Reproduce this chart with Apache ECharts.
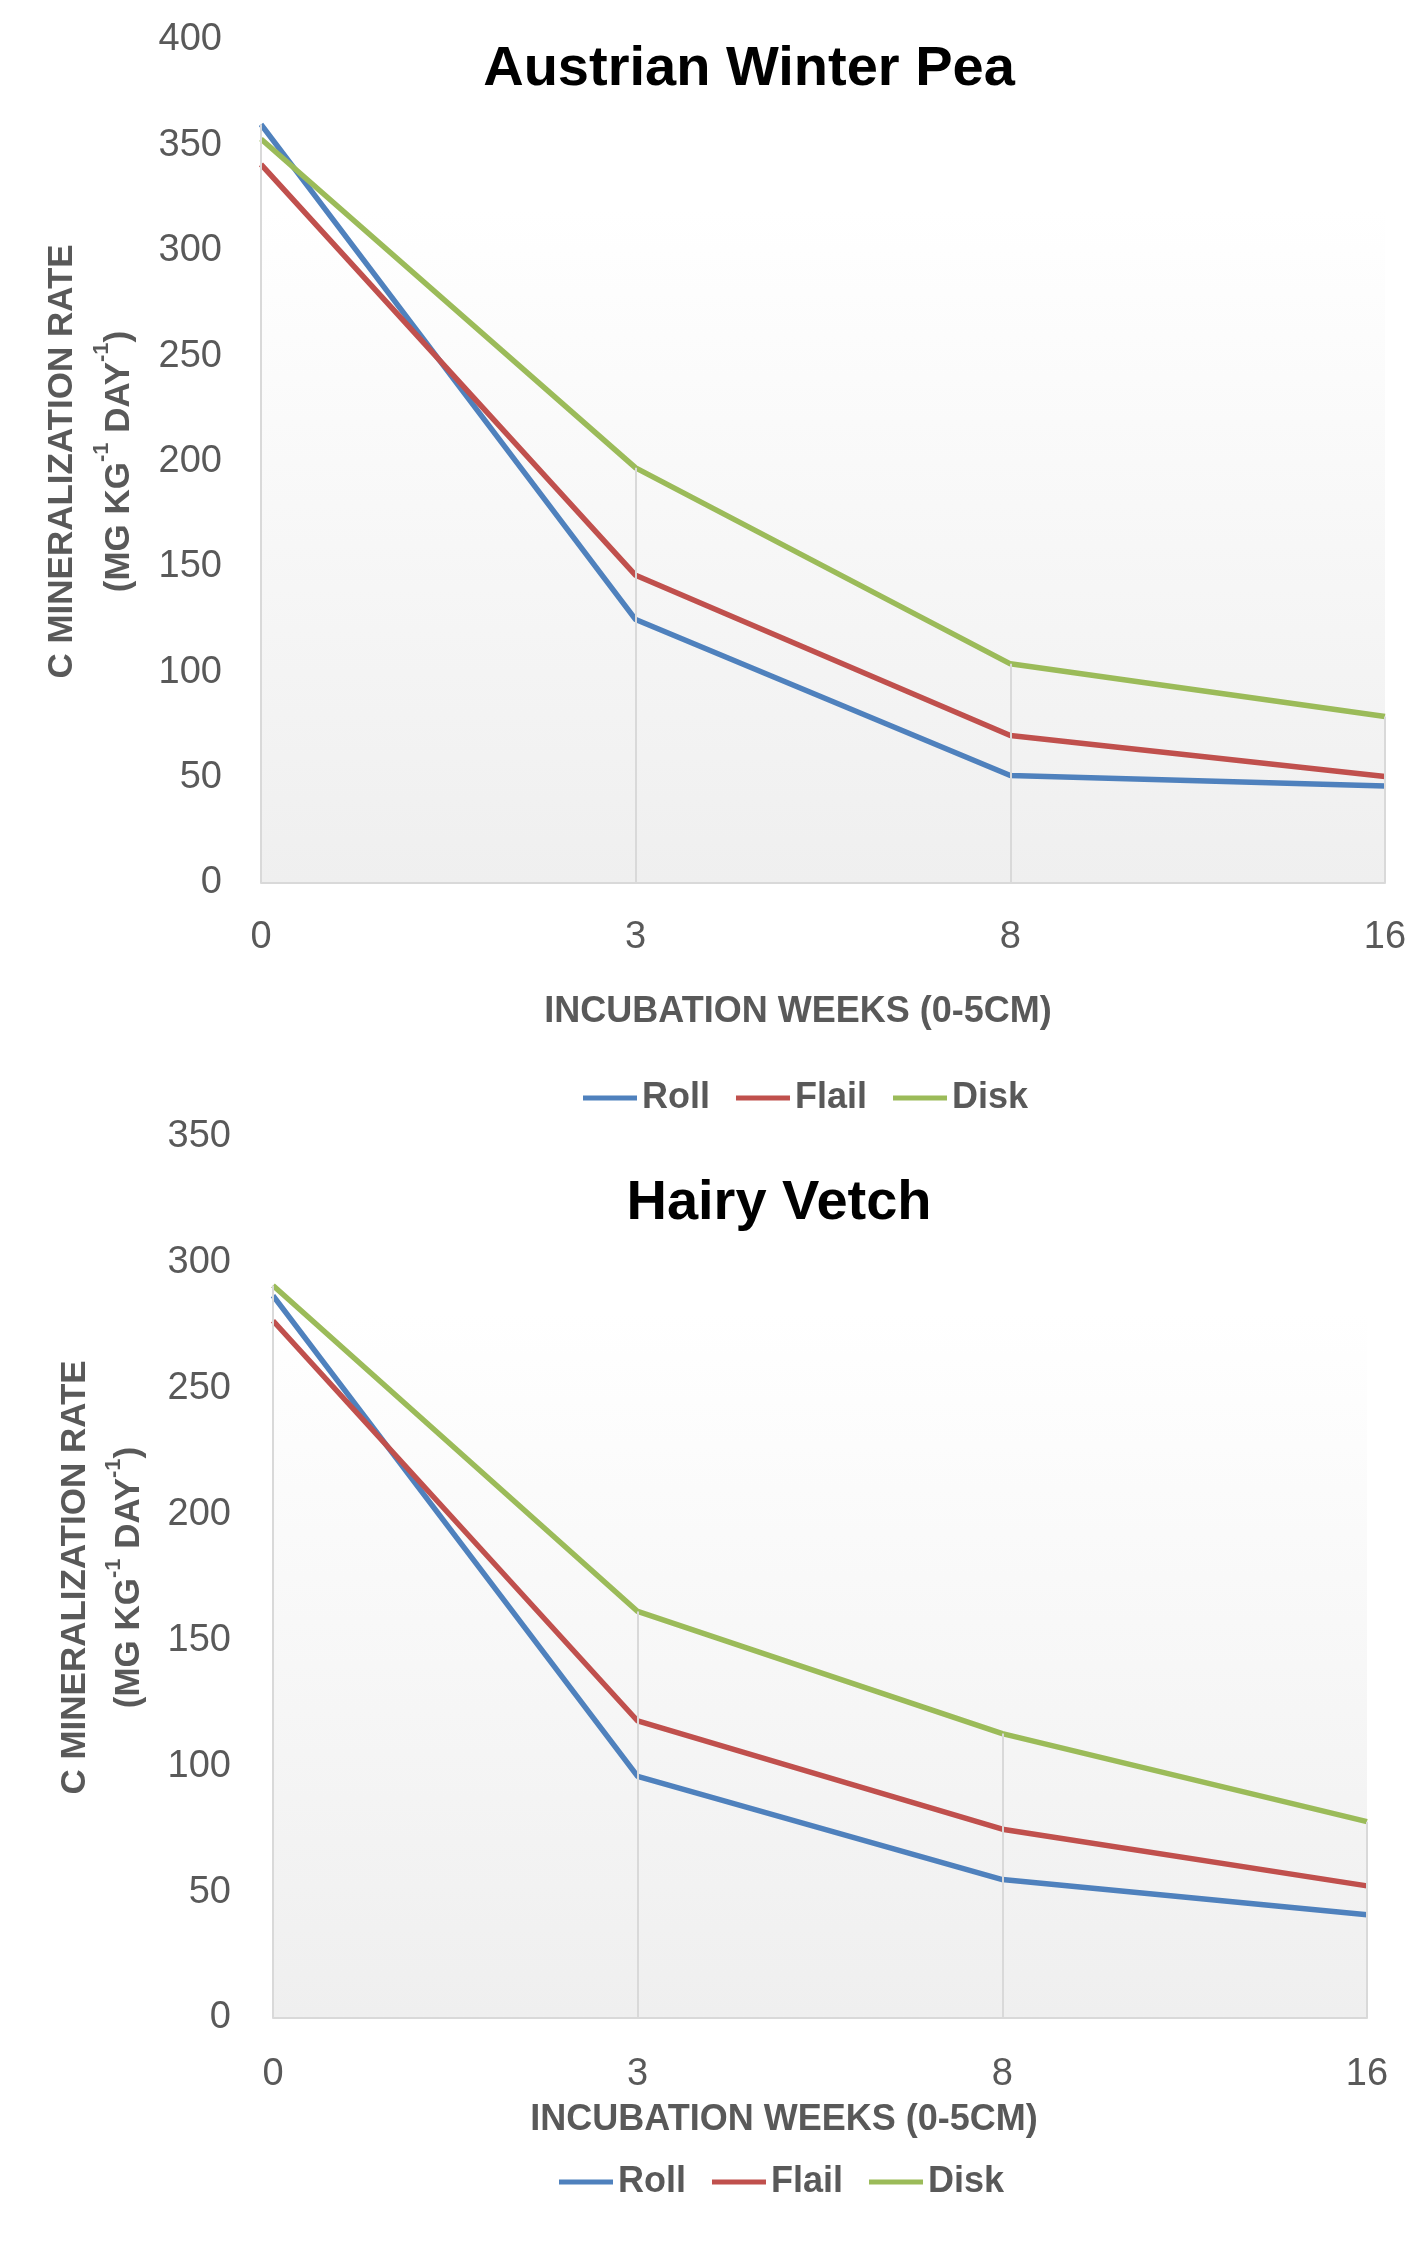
<!DOCTYPE html>
<html>
<head>
<meta charset="utf-8">
<style>html,body{margin:0;padding:0;background:#fff;}#c{width:1420px;height:2241px;}</style>
<script src="https://cdn.jsdelivr.net/npm/echarts@6/dist/echarts.min.js"></script>
</head>
<body>
<div id="c"></div>
<script>
const categories = ['0', '3', '8', '16'];
const seriesNames = ['Roll', 'Flail', 'Disk'];
const peaRoll = [360, 125, 51, 46];
const peaFlail = [341, 146, 70, 50.5];
const peaDisk = [353, 197, 104, 79];
const vetchRoll = [287, 96, 55, 41];
const vetchFlail = [277, 118, 75, 52.5];
const vetchDisk = [291, 161.5, 113, 78];
const peaTicks = {min: 0, max: 400, interval: 50};
const vetchTicks = {min: 0, max: 350, interval: 50};

const colors = ['#4f81bd', '#c0504d', '#9bbb59'];
const FONT = "'Liberation Sans', Arial, sans-serif";
const GRAY = '#595959';

function dropLines(arrs) {
  return categories.map((c, i) => {
    const m = Math.max(...arrs.map(a => a[i]));
    return [{coord: [i, m]}, {coord: [i, 0]}];
  });
}

const yName = 'C MINERALIZATION RATE\n(MG KG{s|-1} DAY{s|-1})';
const yNameStyle = (lh) => ({
  fontFamily: FONT, fontSize: 35, fontWeight: 'bold', color: GRAY, lineHeight: lh,
  rich: { s: {fontFamily: FONT, fontSize: 22, fontWeight: 'bold', color: GRAY, verticalAlign: 'top', lineHeight: 34} }
});

const bg = new echarts.graphic.LinearGradient(0, 0, 0, 1, [
  {offset: 0, color: '#ffffff'}, {offset: 0.2, color: '#ffffff'}, {offset: 1, color: '#efefef'}
]);

function xAxis(gi, gap, pad, margin) {
  return {
    type: 'category', gridIndex: gi, data: categories, boundaryGap: false,
    axisTick: {show: false},
    axisLine: {lineStyle: {color: '#d9d9d9', width: 2}},
    axisLabel: {fontFamily: FONT, fontSize: 38, color: GRAY, margin: margin},
    splitLine: {show: false},
    name: 'INCUBATION WEEKS (0-5CM)', nameLocation: 'middle', nameGap: gap,
    nameTextStyle: {fontFamily: FONT, fontSize: 36, fontWeight: 'bold', color: GRAY, padding: [0, pad, 0, 0]}
  };
}
function yAxis(gi, t, gap, lh, margin) {
  return {
    type: 'value', gridIndex: gi, min: t.min, max: t.max, interval: t.interval,
    axisLine: {show: false}, axisTick: {show: false}, splitLine: {show: false},
    axisLabel: {fontFamily: FONT, fontSize: 38, color: GRAY, margin: margin},
    name: yName, nameLocation: 'middle', nameGap: gap, nameRotate: 90,
    nameTextStyle: yNameStyle(lh)
  };
}
function lineSeries(name, data, idx, color) {
  return {
    name: name, type: 'line', xAxisIndex: idx, yAxisIndex: idx, data: data,
    symbol: 'none', showSymbol: false, lineStyle: {color: color, width: 5.5}, itemStyle: {color: color},
    z: 3, animation: false
  };
}
function dropSeries(idx, arrs) {
  return {
    type: 'line', xAxisIndex: idx, yAxisIndex: idx, data: [], z: 1, silent: true,
    markLine: {silent: true, symbol: 'none', label: {show: false}, animation: false,
      lineStyle: {color: '#d9d9d9', width: 2, type: 'solid'}, data: dropLines(arrs)}
  };
}

const legendStyle = {fontFamily: FONT, fontSize: 36, fontWeight: 'bold', color: GRAY};

const chart = echarts.init(document.getElementById('c'), null, {renderer: 'canvas'});
chart.setOption({
  animation: false,
  backgroundColor: '#ffffff',
  title: [
    {text: 'Austrian Winter Pea', left: 744, top: 37, textAlign: 'center',
      textStyle: {fontFamily: FONT, fontSize: 56, fontWeight: 'bold', color: '#000'}},
    {text: 'Hairy Vetch', left: 774, top: 1171, textAlign: 'center',
      textStyle: {fontFamily: FONT, fontSize: 56, fontWeight: 'bold', color: '#000'}}
  ],
  legend: [
    {data: seriesNames, left: 578, top: 1075, icon: 'rect', itemWidth: 54, itemHeight: 5, itemGap: 26,
      textStyle: legendStyle},
    {data: seriesNames, left: 554, top: 2159, icon: 'rect', itemWidth: 54, itemHeight: 5, itemGap: 26,
      textStyle: legendStyle}
  ],
  grid: [
    {left: 261, right: 35, top: 40, height: 843, show: true, backgroundColor: bg, borderWidth: 0},
    {left: 273, right: 53, top: 1137, height: 881, show: true, backgroundColor: bg, borderWidth: 0}
  ],
  xAxis: [xAxis(0, 111, 50, 36), xAxis(1, 84, 72, 38)],
  yAxis: [yAxis(0, peaTicks, 90, 57, 39), yAxis(1, vetchTicks, 116, 54, 42)],
  series: [
    dropSeries(0, [peaRoll, peaFlail, peaDisk]),
    lineSeries('Roll', peaRoll, 0, colors[0]),
    lineSeries('Flail', peaFlail, 0, colors[1]),
    lineSeries('Disk', peaDisk, 0, colors[2]),
    dropSeries(1, [vetchRoll, vetchFlail, vetchDisk]),
    lineSeries('Roll', vetchRoll, 1, colors[0]),
    lineSeries('Flail', vetchFlail, 1, colors[1]),
    lineSeries('Disk', vetchDisk, 1, colors[2])
  ]
});
</script>
</body>
</html>
